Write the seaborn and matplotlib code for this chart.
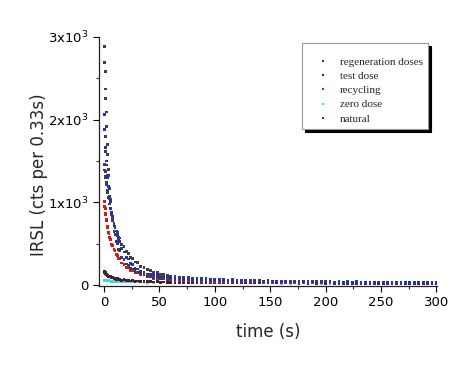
import pandas as pd
import numpy as np
import matplotlib
matplotlib.use('Agg')
import matplotlib.pyplot as plt
from matplotlib.ticker import MultipleLocator, FixedLocator
from matplotlib.lines import Line2D
import seaborn as sns

# channel times (s), denser at the start of the decay
time_s = [0.33, 0.66, 1.0, 1.33, 1.66, 2.0, 2.5, 3.0, 3.5, 4.0, 4.5, 5.0, 6.0, 7.0, 8.0, 9.0,
          10, 11, 12, 13, 14, 16, 18, 20, 22, 24, 26, 28, 30, 33, 36, 39, 42, 45, 48, 51, 54, 57,
          60, 64, 68, 72, 76, 80, 84, 88, 92, 96,
          100, 104, 108, 112, 116, 120, 124, 128, 132, 136,
          140, 144, 148, 152, 156, 160, 164, 168, 172, 176,
          180, 184, 188, 192, 196, 200, 204, 208, 212, 216,
          220, 224, 228, 232, 236, 240, 244, 248, 252, 256,
          260, 264, 268, 272, 276, 280, 284, 288, 292, 296, 300]

# IRSL counts per 0.33 s channel
regen_high = [2880, 2690, 2580, 2370, 2250, 2090, 1920, 1700, 1580, 1400, 1320, 1170, 1030, 850,
              780, 650, 610, 525, 500, 430, 415, 335, 310, 255, 240, 200, 195, 165, 160, 134, 128,
              110, 106, 93, 92, 81, 82, 73,
              74, 68, 70, 63, 66, 60, 63, 57, 60, 54,
              57, 52, 55, 49, 53, 47, 51, 45, 49, 44,
              47, 42, 46, 41, 44, 40, 43, 39, 42, 38,
              41, 37, 40, 36, 39, 35, 38, 34, 37, 34,
              36, 33, 35, 32, 35, 31, 34, 31, 33, 30,
              33, 29, 32, 29, 31, 28, 31, 28, 30, 27, 28]
regen_low = [1460, 1390, 1370, 1310, 1300, 1240, 1210, 1140, 1120, 1060, 1040, 980, 930, 850,
             810, 740, 715, 655, 635, 580, 570, 495, 465, 405, 385, 335, 320, 280, 270, 228, 215,
             186, 176, 152, 149, 130, 128, 113,
             110, 100, 99, 91, 92, 84, 85, 77, 79, 72,
             74, 67, 69, 62, 64, 58, 61, 55, 58, 52,
             55, 50, 53, 48, 51, 46, 49, 45, 47, 43,
             46, 42, 45, 41, 44, 40, 43, 39, 42, 38,
             41, 37, 40, 36, 39, 36, 38, 35, 38, 34,
             37, 33, 36, 33, 35, 32, 35, 31, 34, 31, 32]
natural = [2060, 1880, 1800, 1660, 1610, 1500, 1450, 1330, 1300, 1190, 1170, 1070, 1010, 880,
           830, 720, 700, 610, 600, 535, 530, 440, 400, 335, 315, 262, 245, 203, 196, 163, 160,
           134, 132, 113, 114, 98, 99, 87,
           88, 80, 80, 73, 74, 67, 68, 62, 64, 58,
           60, 55, 57, 52, 54, 49, 51, 46, 49, 44,
           47, 42, 45, 41, 43, 39, 42, 38, 41, 37,
           40, 36, 39, 35, 38, 34, 37, 33, 36, 33,
           35, 32, 34, 31, 34, 30, 33, 30, 32, 29,
           32, 28, 31, 28, 31, 27, 30, 27, 29, 27, 28]
recycling = [1010, 950, 930, 870, 850, 800, 775, 705, 690, 635, 625, 580, 555, 495, 480, 430,
             418, 372, 362, 322, 316, 268, 250, 215, 208, 180, 177, 155, 153, 129, 124, 104, 100,
             85, 85, 74, 75, 66,
             66, 61, 60, 56, 56, 52, 52, 48, 49, 45,
             46, 43, 44, 41, 43, 39, 41, 38, 40, 37,
             39, 36, 38, 35, 37, 34, 36, 33, 36, 33,
             35, 32, 34, 31, 34, 31, 33, 30, 33, 30,
             32, 29, 32, 29, 31, 28, 31, 28, 30, 28,
             30, 27, 29, 27, 29, 26, 28, 26, 28, 26, 27]
test_dose = [172, 155, 156, 141, 144, 128, 131, 117, 120, 107, 110, 99, 101, 88, 92, 80, 83, 73,
             77, 67, 72, 61, 64, 55, 59, 51, 55, 47, 51, 43, 48, 40, 44, 38, 42, 36, 39, 34,
             35, 33, 34, 32, 33, 31, 32, 30, 31, 29,
             30, 28, 30, 28, 29, 27, 29, 27, 28, 26,
             28, 26, 27, 25, 27, 25, 26, 25, 26, 24,
             26, 24, 25, 24, 25, 23, 25, 23, 24, 23,
             24, 22, 24, 22, 23, 22, 23, 22, 23, 21,
             23, 21, 22, 21, 22, 21, 22, 20, 22, 20, 21]
zero_dose = [62, 60, 59, 57, 58, 55, 56, 53, 54, 51, 53, 49, 51, 47, 49, 45, 47, 44, 46, 42, 45,
             41, 44, 40, 43, 39, 42, 38, 41, 37, 40, 36, 39, 35, 38, 35, 37, 34,
             34, 32, 33, 31, 32, 30, 31, 29, 30, 28,
             30, 28, 29, 27, 29, 27, 28, 26, 28, 26,
             27, 25, 27, 25, 26, 24, 26, 24, 25, 23,
             25, 23, 25, 23, 24, 22, 24, 22, 24, 22,
             23, 21, 23, 21, 23, 21, 22, 20, 22, 20,
             22, 20, 22, 20, 21, 19, 21, 19, 21, 19, 20]

labels = ['regeneration doses', 'test dose', 'recycling', 'zero dose', 'natural']
colors = ['#404040', '#4a2030', '#d81818', '#30e0e0', '#2030c0']

# drawing order: natural ends up on top, as in the original
curves = [('zero dose', zero_dose), ('test dose', test_dose), ('recycling', recycling),
          ('regeneration doses', regen_low), ('regeneration doses', regen_high),
          ('natural', natural)]
frames = []
for i, (name, vals) in enumerate(curves):
    frames.append(pd.DataFrame({'time': time_s, 'irsl': vals, 'kind': name, 'run': i}))
df = pd.concat(frames, ignore_index=True)

sns.set_style('ticks')
plt.rcParams['font.family'] = ['DejaVu Sans']

fig = plt.figure(figsize=(4.74, 3.66), dpi=100)
ax = fig.add_axes([0.2089, 0.2186, 0.713, 0.681])

pal = dict(zip(labels, colors))
sns.scatterplot(data=df, x='time', y='irsl', hue='kind', palette=pal, hue_order=labels,
                s=4, linewidth=0, marker='s', legend=False, ax=ax)

ax.set_xlim(-4.5, 300.5)
ax.set_ylim(-10, 3000)
ax.xaxis.set_major_locator(FixedLocator([0, 50, 100, 150, 200, 250, 300]))
ax.xaxis.set_minor_locator(MultipleLocator(25))
ax.yaxis.set_major_locator(FixedLocator([0, 1000, 2000, 3000]))
ax.yaxis.set_minor_locator(MultipleLocator(500))
ax.set_yticklabels(['0', r'1x10$^3$', r'2x10$^3$', r'3x10$^3$'])
ax.tick_params(which='major', direction='out', length=4, width=0.8, labelsize=9.5, colors='black')
ax.tick_params(which='minor', direction='out', length=2.5, width=0.8)
sns.despine(ax=ax)
for sp in ['left', 'bottom']:
    ax.spines[sp].set_color('#222222')
    ax.spines[sp].set_linewidth(0.9)

ax.set_xlabel('time (s)', fontsize=12, labelpad=10)
ax.set_ylabel('IRSL (cts per 0.33s)', fontsize=12)
ax.yaxis.set_label_coords(-0.151, 0.446)

handles = [Line2D([], [], linestyle='none', marker='s', markersize=1.5, markeredgewidth=0,
                  color=c, label=l) for l, c in zip(labels, colors)]
leg = ax.legend(handles=handles, loc='upper left', bbox_to_anchor=(302 / 474, 1 - 43 / 366),
                bbox_transform=fig.transFigure, prop={'family': 'Liberation Serif', 'size': 8},
                title=' ', title_fontsize=3,
                frameon=True, fancybox=False, framealpha=1, borderpad=0.5, handlelength=2.8,
                handletextpad=0.1, labelspacing=0.4, borderaxespad=0,
                shadow={'color': 'black', 'alpha': 1})
leg.get_frame().set_edgecolor('#999999')
leg.get_frame().set_linewidth(0.8)

fig.savefig('out.png', dpi=100)
